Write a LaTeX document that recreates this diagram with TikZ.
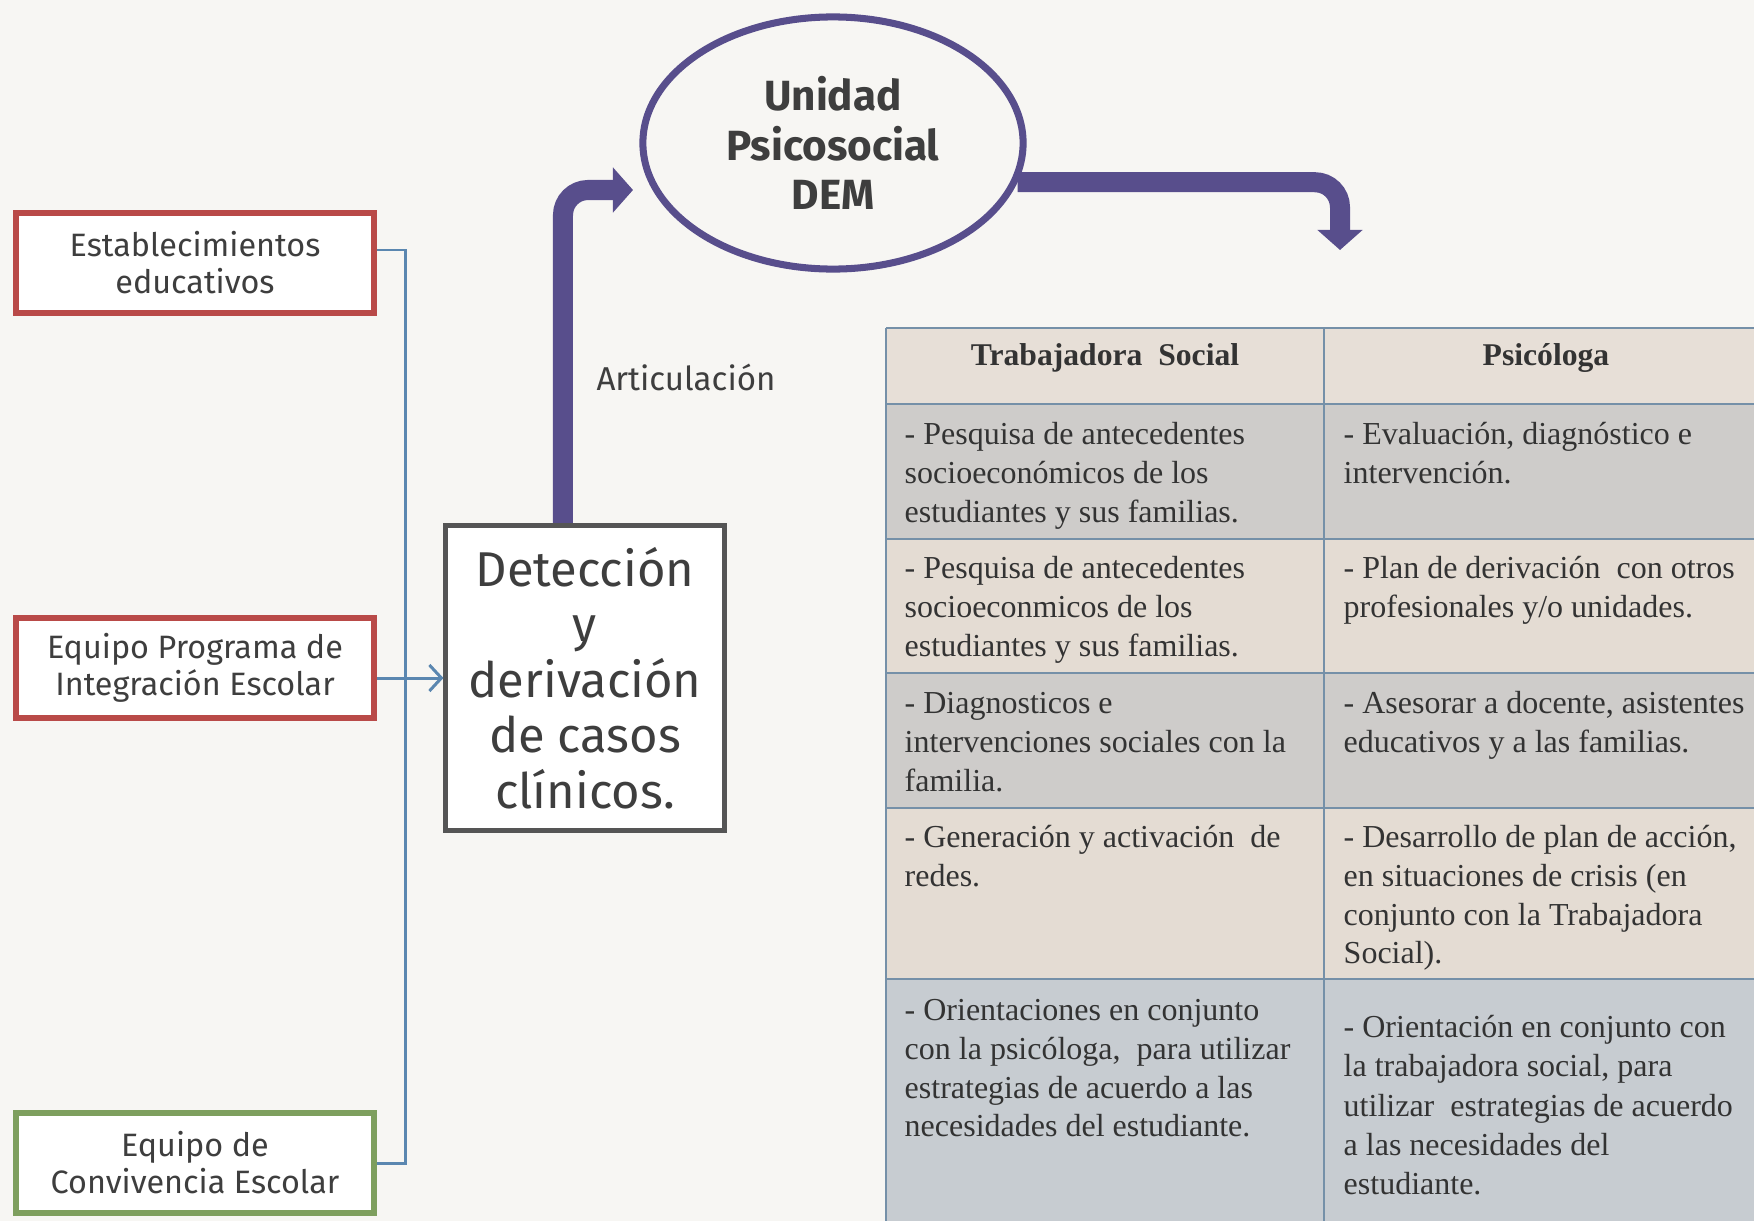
\documentclass[tikz,border=0pt]{standalone}
\usepackage{fontspec}
\setmainfont{Liberation Serif}
\newfontfamily\labelfont{Fira Sans}
\usetikzlibrary{arrows.meta,shapes.geometric}

\definecolor{paper}{HTML}{F7F6F3}
\definecolor{arrowpurple}{HTML}{584E8C}
\definecolor{linkblue}{HTML}{5B87B0}
\definecolor{boxred}{HTML}{B94A48}
\definecolor{boxgreen}{HTML}{7E9F5E}
\definecolor{detgray}{HTML}{555555}
\definecolor{labelgray}{HTML}{3E3E3E}
\definecolor{headfill}{HTML}{E7DFD7}
\definecolor{rowgray}{HTML}{CECCCA}
\definecolor{rowbeige}{HTML}{E4DCD3}
\definecolor{rowblue}{HTML}{C7CCD1}
\definecolor{tabline}{HTML}{7590A8}

\tikzset{
  source/.style={draw=#1, line width=1.7pt, fill=white, minimum width=3.58cm,
    minimum height=1.0cm, align=center, text=labelgray,
    font=\labelfont\fontsize{9.2}{10.5}\selectfont},
  cell/.style={anchor=north west, inner sep=0pt, align=left, text=black!80,
    font=\fontsize{9.1}{11}\selectfont},
  head/.style={inner sep=0pt, text=black!80, font=\bfseries\fontsize{9}{11}\selectfont},
  bigarrow/.style={draw=arrowpurple, line width=0.2cm, rounded corners=0.25cm,
    -{Triangle[length=0.2cm, width=0.44cm]}},
  link/.style={draw=linkblue, line width=0.85pt}
}

\begin{document}
\begin{tikzpicture}[x=0.01cm, y=-0.01cm]

  \def\tabL{886} % borde izquierdo de la tabla
  \def\tabM{1324}
  \useasboundingbox (0,0) rectangle (1754,1221);
  \fill[paper] (0,0) rectangle (1754,1221);

  % tabla
  \foreach \ytop/\ybot/\col in {328/404/headfill, 404/539/rowgray, 539/673/rowbeige,
      673/808/rowgray, 808/979/rowbeige, 979/1221/rowblue}
    \fill[\col] (\tabL,\ytop) rectangle (1754,\ybot);
  \foreach \yy in {328,404,539,673,808,979}
    \draw[tabline, line width=0.6pt] (\tabL,\yy) -- (1754,\yy);
  \foreach \xx in {\tabL,\tabM}
    \draw[tabline, line width=0.6pt] (\xx,328) -- (\xx,1221);

  \node[head] (hsoc) at (1105,358) {Trabajadora\ \ Social};
  \node[head] (hpsi) at (1546,358) {Psicóloga};

  \node[cell] (s1) at (904,417) {\strut- Pesquisa de antecedentes\\socioeconómicos de los\\estudiantes y sus familias.};
  \node[cell] (p1) at (1343,417) {\strut- Evaluación, diagnóstico e\\intervención.};
  \node[cell] (s2) at (904,551) {\strut- Pesquisa de antecedentes\\socioeconmicos de los\\estudiantes y sus familias.};
  \node[cell] (p2) at (1343,551) {\strut- Plan de derivación\ \ con otros\\profesionales y/o unidades.};
  \node[cell] (s3) at (904,686) {\strut- Diagnosticos e\\intervenciones sociales con la\\familia.};
  \node[cell] (p3) at (1343,686) {\strut- Asesorar a docente, asistentes\\educativos y a las familias.};
  \node[cell] (s4) at (904,820) {\strut- Generación y activación\ \ de\\redes.};
  \node[cell] (p4) at (1343,820) {\strut- Desarrollo de plan de acción,\\en situaciones de crisis (en\\conjunto con la Trabajadora\\Social).};
  \node[cell] (s5) at (904,993) {\strut- Orientaciones en conjunto\\con la psicóloga,\ \ para utilizar\\estrategias de acuerdo a las\\necesidades del estudiante.};
  \node[cell, font=\fontsize{9.1}{11.2}\selectfont] (p5) at (1343,1009) {\strut- Orientación en conjunto con\\la trabajadora social, para\\utilizar\ \ estrategias de acuerdo\\a las necesidades del\\estudiante.};

  % origen de los casos
  \node[source=boxred] (est) at (195,263) {Establecimientos\\educativos};
  \node[source=boxred] (pie) at (195,668) {Equipo Programa de\\Integración Escolar};
  \node[source=boxgreen] (conv) at (195,1163) {Equipo de\\Convivencia Escolar};

  \node[draw=detgray, line width=1.4pt, fill=white, minimum width=2.78cm,
    minimum height=3.05cm, align=center, text=labelgray,
    font=\labelfont\fontsize{13.9}{15.8}\selectfont] (detect) at (585,678)
    {Detección\\y\\derivación\\de casos\\clínicos.};

  \node[ellipse, draw=arrowpurple, line width=2pt, fill=paper, minimum width=3.8cm,
    minimum height=2.52cm, align=center, text=labelgray,
    font=\labelfont\bfseries\fontsize{12}{14}\selectfont] (unit) at (833,143)
    {Unidad\\Psicosocial\\DEM};

  \node[text=labelgray, font=\labelfont\fontsize{9.4}{11}\selectfont] (art) at (686,377) {Articulación};

  % conectores
  \draw[link] ([yshift=0.13cm]est.east) -- ++(28,0) |- (conv.east);
  \draw[link, -{Straight Barb[length=0.12cm, width=0.26cm]}] (pie.east |- detect.west) -- (detect.west);

  \coordinate (uptip) at (633,190);
  \coordinate (downtip) at (1340,250);
  \draw[bigarrow] ([xshift=-0.22cm]detect.north) |- (uptip);
  \draw[bigarrow] (unit.348) -| (downtip);

\end{tikzpicture}
\end{document}
